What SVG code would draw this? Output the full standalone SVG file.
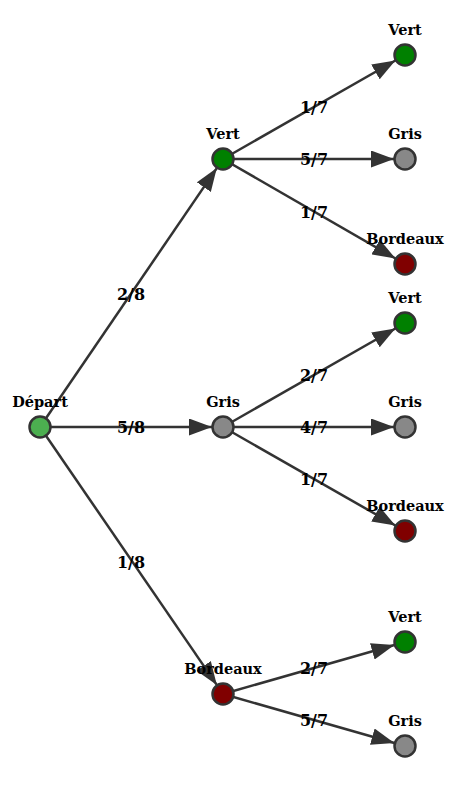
<svg xmlns="http://www.w3.org/2000/svg" width="476" height="785" viewBox="0 0 476 785">
<defs>
<marker id="arr" markerUnits="userSpaceOnUse" markerWidth="23" markerHeight="17" viewBox="0 0 23 17" refX="23" refY="8.5" orient="auto">
<path d="M0,0 L23,8.5 L0,17 z" fill="#333"/>
</marker>
<style>
.e{stroke:#333;stroke-width:2.5;fill:none;marker-end:url(#arr)}
.n{stroke:#333;stroke-width:2.5}
.t{font-family:"DejaVu Serif","Liberation Serif",serif;font-weight:bold;font-size:14.5px;fill:#000;text-anchor:middle}
.l{font-family:"DejaVu Serif","Liberation Serif",serif;font-weight:bold;font-size:16px;fill:#000;text-anchor:middle;dominant-baseline:central}
.vert{fill:#008000}.gris{fill:#888}.bord{fill:#800000}.dep{fill:#4caf50}
</style>
</defs>
<rect width="476" height="785" fill="#fff"/>
<g id="connectors">
<line class="e" x1="40" y1="427" x2="216.8" y2="168.1"/>
<line class="e" x1="40" y1="427" x2="212" y2="427"/>
<line class="e" x1="40" y1="427" x2="216.8" y2="684.9"/>
<line class="e" x1="223" y1="159" x2="395.4" y2="60.5"/>
<line class="e" x1="223" y1="159" x2="394" y2="159"/>
<line class="e" x1="223" y1="159" x2="395.5" y2="258.5"/>
<line class="e" x1="223" y1="427" x2="395.4" y2="328.5"/>
<line class="e" x1="223" y1="427" x2="394" y2="427"/>
<line class="e" x1="223" y1="427" x2="395.4" y2="525.5"/>
<line class="e" x1="223" y1="694" x2="394.4" y2="645"/>
<line class="e" x1="223" y1="694" x2="394.4" y2="743"/>
<text class="l" x="131" y="294">2/8</text>
<text class="l" x="131" y="427">5/8</text>
<text class="l" x="131" y="562">1/8</text>
<text class="l" x="314" y="107">1/7</text>
<text class="l" x="314" y="159">5/7</text>
<text class="l" x="314" y="212">1/7</text>
<text class="l" x="314" y="375">2/7</text>
<text class="l" x="314" y="427">4/7</text>
<text class="l" x="314" y="479">1/7</text>
<text class="l" x="314" y="668">2/7</text>
<text class="l" x="314" y="720">5/7</text>
</g>
<g id="depart"><circle class="n dep" cx="40" cy="427" r="10.5"/><text class="t" x="40" y="407">Départ</text></g>
<g id="vert1"><circle class="n vert" cx="223" cy="159" r="10.5"/><text class="t" x="223" y="139">Vert</text></g>
<g id="gris1"><circle class="n gris" cx="223" cy="427" r="10.5"/><text class="t" x="223" y="407">Gris</text></g>
<g id="bord1"><circle class="n bord" cx="223" cy="694" r="10.5"/><text class="t" x="223" y="674">Bordeaux</text></g>
<g id="vv"><circle class="n vert" cx="405" cy="55" r="10.5"/><text class="t" x="405" y="35">Vert</text></g>
<g id="vg"><circle class="n gris" cx="405" cy="159" r="10.5"/><text class="t" x="405" y="139">Gris</text></g>
<g id="vb"><circle class="n bord" cx="405" cy="264" r="10.5"/><text class="t" x="405" y="244">Bordeaux</text></g>
<g id="gv"><circle class="n vert" cx="405" cy="323" r="10.5"/><text class="t" x="405" y="303">Vert</text></g>
<g id="gg"><circle class="n gris" cx="405" cy="427" r="10.5"/><text class="t" x="405" y="407">Gris</text></g>
<g id="gb"><circle class="n bord" cx="405" cy="531" r="10.5"/><text class="t" x="405" y="511">Bordeaux</text></g>
<g id="bv"><circle class="n vert" cx="405" cy="642" r="10.5"/><text class="t" x="405" y="622">Vert</text></g>
<g id="bg"><circle class="n gris" cx="405" cy="746" r="10.5"/><text class="t" x="405" y="726">Gris</text></g>
</svg>
